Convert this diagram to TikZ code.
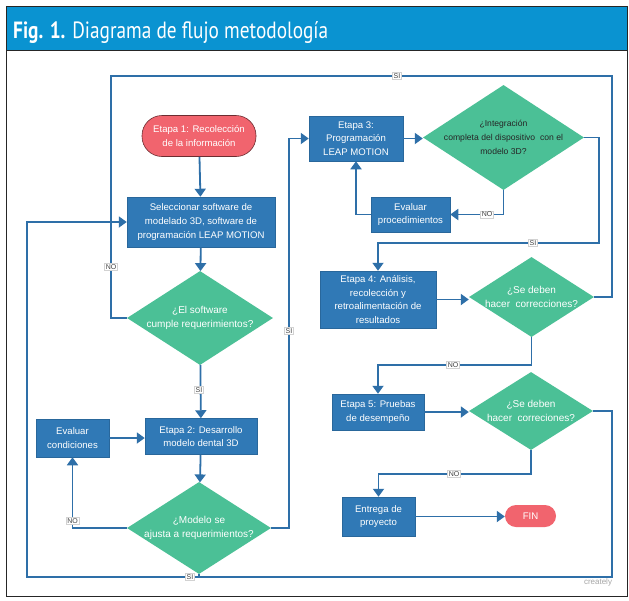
\documentclass[tikz,border=0pt]{standalone}
\usepackage{fontspec}
\setmainfont{Liberation Sans}
\newfontfamily\headfont{PT Sans}
\usetikzlibrary{arrows.meta,shapes.geometric}
\definecolor{hdrblue}{HTML}{0A93D1}
\definecolor{boxblue}{HTML}{3079B6}
\definecolor{lineblue}{HTML}{2E6FA8}
\definecolor{dgreen}{HTML}{4BC096}
\definecolor{tred}{HTML}{F1646E}
\tikzset{
  procbox/.style={rectangle, fill=boxblue, draw=boxblue!85!black, line width=0.5pt, text=white, align=center, inner sep=0pt,
    font=\fontsize{9.6}{13.8}\selectfont},
  decis/.style={diamond, fill=dgreen, inner sep=0pt},
  dtext/.style={text=white, align=center, font=\fontsize{10}{14}\selectfont},
  term/.style={rectangle, fill=tred, text=white, align=center, inner sep=0pt, font=\fontsize{9.6}{13.8}\selectfont},
  conn/.style={draw=lineblue, line width=1.8pt},
  arr/.style={conn, -{Triangle[length=8pt,width=11pt]}},
  lab/.style={fill=white, draw=gray!35, line width=0.4pt, inner sep=1.2pt, text=black!75, font=\fontsize{7}{8}\selectfont}
}
\begin{document}
\begin{tikzpicture}[x=1pt,y=-1pt]
\useasboundingbox (0,0) rectangle (629,600);
\fill[white] (0,0) rectangle (629,600);
% frame and header
\fill[hdrblue] (6,6) rectangle (627,50);
\draw[black!85, line width=0.9pt] (6,6) rectangle (627,596);
\draw[black!85, line width=0.9pt] (6,50) -- (627,50);
\node[anchor=base west, text=white, inner sep=0pt] (title) at (13,38)
  {\resizebox{315pt}{\height}{\headfont\fontsize{23.5}{26}\selectfont\textbf{Fig. 1.} Diagrama de flujo metodología}};

% nodes
\node[term, draw=tred!45!black, line width=0.6pt, rounded corners=20pt, minimum width=114pt, minimum height=41pt] (e1) at (199,136) {Etapa 1: Recolección\\de la información};
\node[procbox, minimum width=148pt, minimum height=50pt] (sel) at (201,222) {Seleccionar software de\\modelado 3D, software de\\programación LEAP MOTION};
\node[decis, minimum width=146pt, minimum height=94pt, label={[dtext]center:¿El software\\cumple requerimientos?}] (d1) at (200,318) {};
\node[procbox, minimum width=112pt, minimum height=36pt] (e2) at (201,436.5) {Etapa 2: Desarrollo\\modelo dental 3D};
\node[procbox, minimum width=73pt, minimum height=38pt] (evc) at (72.5,438) {Evaluar\\condiciones};
\node[decis, minimum width=144pt, minimum height=92pt, label={[dtext]center:¿Modelo se\\ajusta a requerimientos?}] (d2) at (199,528) {};
\node[procbox, minimum width=94pt, minimum height=45pt] (e3) at (356,138.5) {Etapa 3:\\Programación\\LEAP MOTION};
\node[decis, minimum width=161pt, minimum height=105pt, label={[align=center, text=black!85, font=\fontsize{8.6}{14}\selectfont]center:¿Integración\\completa del dispositivo\ \ con el\\modelo 3D?}] (d3) at (503.5,137.5) {};
\node[procbox, minimum width=79pt, minimum height=35pt] (evp) at (410.5,214.5) {Evaluar\\procedimientos};
\node[procbox, minimum width=116pt, minimum height=57pt] (e4) at (378,299.5) {Etapa 4: Análisis,\\recolección y\\retroalimentación de\\resultados};
\node[decis, minimum width=125pt, minimum height=80pt, label={[dtext]center:¿Se deben\\hacer\ \ correcciones?}] (d4) at (531.5,297) {};
\node[procbox, minimum width=92pt, minimum height=36pt] (e5) at (378,412) {Etapa 5: Pruebas\\de desempeño};
\node[decis, minimum width=124pt, minimum height=78pt, label={[dtext]center:¿Se deben\\hacer\ \ correciones?}] (d5) at (531,411) {};
\node[procbox, minimum width=73pt, minimum height=39pt] (ent) at (378.5,516.5) {Entrega de\\proyecto};
\node[term, rounded corners=11pt, minimum width=51pt, minimum height=22pt] (fin) at (530.5,516) {FIN};

% bend coordinates
\coordinate (xline) at (289,331);
\coordinate (k11) at (599,243);
\coordinate (k13) at (453,365);
\coordinate (k15) at (454,474);
\coordinate (topR) at (612,76);
\coordinate (topL) at (111,76);
\coordinate (botR) at (612,577);
\coordinate (botL) at (27,577);

% connectors
\draw[arr] (e1) -- (sel);
\draw[arr] (sel) -- (d1);
\draw[arr] (d1) -- (e2);
\draw[arr] (evc.east) -- (evc.east -| e2.west);
\draw[arr] (e2) -- (d2);
\draw[arr] (d2.west) -| (evc.south);
\draw[arr] (d2.east) -| (xline) |- (e3.west);
\draw[arr] (e3.east) -- (e3.east -| d3.west);
\draw[arr] (d3.south) |- (evp.east);
\draw[arr] (evp.west) -| (e3.south);
\draw[arr] (d3.east) -| (k11) -| (e4.north);
\draw[arr] (e4.east) -- (e4.east -| d4.west);
\draw[arr] (d4.south) |- (k13) -| (e5.north);
\draw[arr] (e5.east) -- (e5.east -| d5.west);
\draw[arr] (d5.south) |- (k15) -| (ent.north);
\draw[arr] (ent.east) -- (ent.east -| fin.west);
\draw[conn] (d4.east) -| (topR) -- (topL) |- (d1.west);
\draw[arr] (d5.east) -| (botR) -- (botL) |- (sel.west);
\draw[conn] (d2.south) -- (d2.south |- botL);

% labels
\node[lab] (l1) at (397,76) {SI};
\node[lab] (l2) at (111,267) {NO};
\node[lab] (l3) at (190,577) {SI};
\node[lab] (l4) at (199,390) {SI};
\node[lab] (l5) at (533,243) {SI};
\node[lab] (l6) at (487,214.5) {NO};
\node[lab] (l7) at (453,365) {NO};
\node[lab] (l8) at (454,474) {NO};
\node[lab] (l9) at (72.5,521) {NO};
\node[lab] (l10) at (289,331) {SI};
\node[text=gray!70, font=\fontsize{8}{9}\selectfont, inner sep=0pt] (wm) at (598,582) {creately};
\end{tikzpicture}
\end{document}
